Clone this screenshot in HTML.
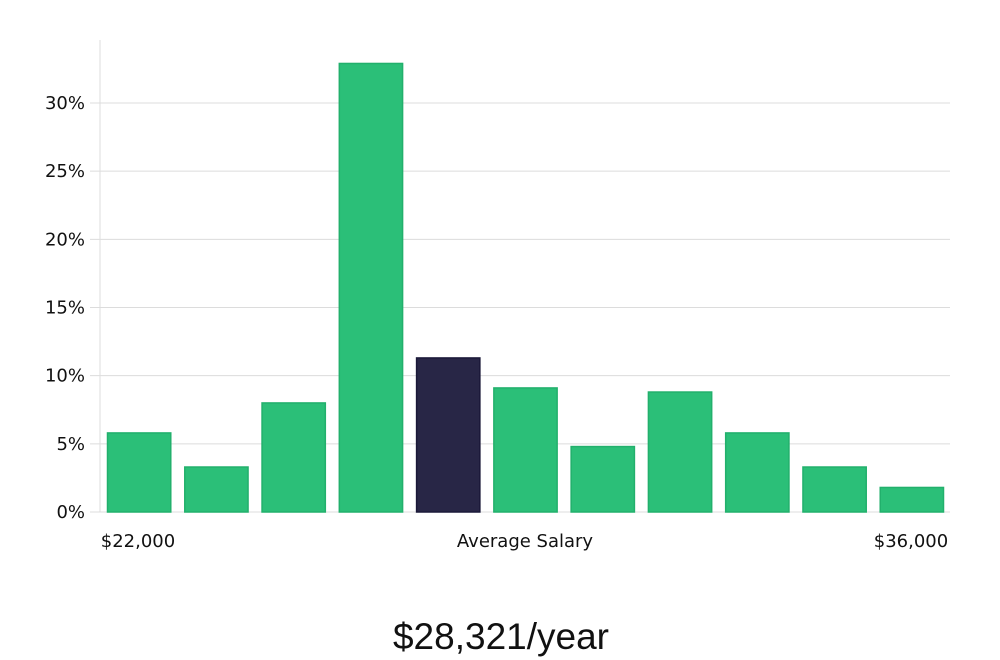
<!DOCTYPE html>
<html><head><meta charset="utf-8"><style>
html,body{margin:0;padding:0;background:#fff;width:1000px;height:660px;overflow:hidden}
svg text{font-family:"DejaVu Sans","Liberation Sans",sans-serif;fill:#111}
</style></head><body>
<svg id="chart" width="1000" height="660" xmlns="http://www.w3.org/2000/svg">
<g id="grid"></g>
<g id="yaxis"></g>
<g id="bars"></g>
<text x="138" y="547" font-size="18" text-anchor="middle">$22,000</text>
<text x="525" y="547" font-size="18" text-anchor="middle">Average Salary</text>
<text x="911" y="547" font-size="18" text-anchor="middle">$36,000</text>
<text x="501" y="649" font-size="37" text-anchor="middle" style="font-family:'Liberation Sans',sans-serif;font-weight:300;fill:#111">$28,321/year</text>
</svg>
<script>
const values = [5.8, 3.3, 8.0, 32.9, 11.3, 9.1, 4.8, 8.8, 5.8, 3.3, 1.8];
const highlight = [false, false, false, false, true, false, false, false, false, false, false];
const yTicks = [0, 5, 10, 15, 20, 25, 30];
const NS = "http://www.w3.org/2000/svg";
const x0 = 100, x1 = 950, yZero = 512, pxPerPct = (512 - 103) / 30;
const y = v => yZero - v * pxPerPct;
const band = (x1 - x0) / values.length;
const grid = document.getElementById('grid'), yaxis = document.getElementById('yaxis'), bars = document.getElementById('bars');
const axisLine = document.createElementNS(NS, 'line');


axisLine.setAttribute('x1', x0); axisLine.setAttribute('x2', x0);
axisLine.setAttribute('y1', 40); axisLine.setAttribute('y2', yZero);
axisLine.setAttribute('stroke', '#ddd');
yaxis.appendChild(axisLine);
yTicks.forEach(t => {
  const l = document.createElementNS(NS, 'line');
  
  
  l.setAttribute('x1', 90); l.setAttribute('x2', x1);
  l.setAttribute('y1', y(t)); l.setAttribute('y2', y(t));
  l.setAttribute('stroke', '#dcdcdc');
  grid.appendChild(l);
  const tx = document.createElementNS(NS, 'text');
  
  
  tx.setAttribute('x', 85); tx.setAttribute('y', y(t) + 6);
  tx.setAttribute('font-size', '18'); tx.setAttribute('text-anchor', 'end');
  tx.textContent = t + '%';
  yaxis.appendChild(tx);
});
values.forEach((v, i) => {
  const r = document.createElementNS(NS, 'rect');
  
  
  const w = band - 14;
  r.setAttribute('x', x0 + i * band + 7.5);
  r.setAttribute('y', y(v));
  r.setAttribute('width', w);
  r.setAttribute('height', yZero - y(v));
  r.setAttribute('fill', highlight[i] ? '#282646' : '#2bbf78');
  r.setAttribute('stroke', highlight[i] ? '#1a1838' : '#22b06c');
  r.setAttribute('stroke-width', '1.5');
  bars.appendChild(r);
});
</script>
</body></html>
